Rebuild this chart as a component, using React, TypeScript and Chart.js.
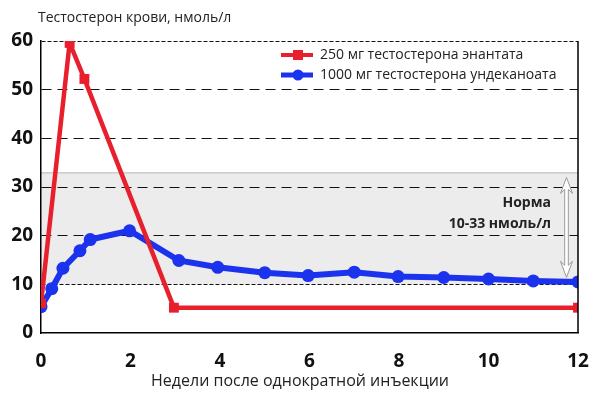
import React, { useEffect, useRef } from "react";
import { Chart, registerables } from "chart.js";

Chart.register(...registerables);

const redLabel = "250 мг тестостерона энантата";
const blueLabel = "1000 мг тестостерона ундеканоата";
const redWeeks = [0, 0.64, 0.97, 2.97, 12];
const redValues = [6.1, 59.6, 52.2, 5.2, 5.2];
const blueWeeks = [0, 0.24, 0.49, 0.87, 1.1, 1.98, 3.08, 3.95, 5, 5.97, 7, 7.98, 9, 10, 11, 12];
const blueValues = [5.4, 9.1, 13.3, 16.9, 19.2, 21, 14.9, 13.5, 12.4, 11.8, 12.5, 11.6, 11.4, 11.1, 10.7, 10.5];
const yTicks = [0, 10, 20, 30, 40, 50, 60];
const xTicks = [0, 2, 4, 6, 8, 10, 12];
const normLow = 10;
const normHigh = 33;
const yTitle = "Тестостерон крови, нмоль/л";
const xTitle = "Недели после однократной инъекции";
const normLines = ["Норма", "10-33 нмоль/л"];

const RED = "#e8202e";
const BLUE = "#1c33ee";
const FONT = "'Open Sans', 'Noto Sans', sans-serif";

const decor = {
  id: "decor",
  beforeDraw(chart: any) {
    const { ctx, chartArea: a, scales } = chart;
    const y = scales.y;
    const top = y.getPixelForValue(normHigh);
    const bot = y.getPixelForValue(normLow);
    ctx.save();
    ctx.fillStyle = "#ececec";
    ctx.fillRect(a.left, top, a.right - a.left, bot - top);
    ctx.strokeStyle = "#b8b8b8";
    ctx.lineWidth = 1;
    ctx.beginPath();
    ctx.moveTo(a.left, top + 0.5);
    ctx.lineTo(a.right, top + 0.5);
    ctx.stroke();
    ctx.restore();
  },
  afterDatasetsDraw(chart: any) {
    const { ctx, chartArea: a, scales } = chart;
    const y = scales.y;
    ctx.save();
    // right border
    ctx.strokeStyle = "#000";
    ctx.lineWidth = 1.5;
    ctx.beginPath();
    ctx.moveTo(a.right, a.top);
    ctx.lineTo(a.right, a.bottom);
    ctx.stroke();

    // titles
    ctx.fillStyle = "#222";
    ctx.font = `14px ${FONT}`;
    ctx.textBaseline = "middle";
    ctx.textAlign = "left";
    ctx.fillText(yTitle, 38, 18);
    ctx.font = `16px ${FONT}`;
    ctx.textAlign = "center";
    ctx.fillText(xTitle, 300, 381);

    // legend
    const legend = [
      { label: redLabel, color: RED, shape: "rect", yy: 55 },
      { label: blueLabel, color: BLUE, shape: "circle", yy: 75 },
    ];
    legend.forEach((l) => {
      ctx.strokeStyle = l.color;
      ctx.fillStyle = l.color;
      ctx.lineWidth = l.shape === "rect" ? 4 : 5;
      ctx.beginPath();
      ctx.moveTo(281, l.yy);
      ctx.lineTo(313, l.yy);
      ctx.stroke();
      if (l.shape === "rect") {
        ctx.fillRect(293, l.yy - 5, 10, 10);
      } else {
        ctx.beginPath();
        ctx.arc(298, l.yy, 5.5, 0, Math.PI * 2);
        ctx.fill();
      }
      ctx.fillStyle = "#222";
      ctx.font = `14px ${FONT}`;
      ctx.textAlign = "left";
      ctx.textBaseline = "middle";
      ctx.fillText(l.label, 320, l.yy);
    });

    // norm text
    ctx.fillStyle = "#222";
    ctx.font = `bold 14px ${FONT}`;
    ctx.textAlign = "right";
    ctx.fillText(normLines[0], 551, 203);
    ctx.fillText(normLines[1], 551, 224);

    // double arrow
    const ax = 566.5;
    const t = y.getPixelForValue(normHigh) + 5;
    const b = y.getPixelForValue(normLow) - 7;
    const hw = 6;
    const hl = 16;
    const sw = 1.8;
    ctx.beginPath();
    ctx.moveTo(ax, t);
    ctx.lineTo(ax + hw, t + hl);
    ctx.lineTo(ax + sw, t + hl - 4);
    ctx.lineTo(ax + sw, b - hl + 4);
    ctx.lineTo(ax + hw, b - hl);
    ctx.lineTo(ax, b);
    ctx.lineTo(ax - hw, b - hl);
    ctx.lineTo(ax - sw, b - hl + 4);
    ctx.lineTo(ax - sw, t + hl - 4);
    ctx.lineTo(ax - hw, t + hl);
    ctx.closePath();
    ctx.fillStyle = "#fff";
    ctx.fill();
    ctx.strokeStyle = "#9a9a9a";
    ctx.lineWidth = 1;
    ctx.stroke();
    ctx.restore();
  },
};

export default function App() {
  const ref = useRef<HTMLCanvasElement>(null);
  useEffect(() => {
    if (!ref.current) return;
    const chart = new Chart(ref.current, {
      type: "line",
      data: {
        datasets: [
          {
            label: redLabel,
            data: redWeeks.map((w, i) => ({ x: w, y: redValues[i] })),
            borderColor: RED,
            backgroundColor: RED,
            borderWidth: 4.5,
            pointStyle: "rect",
            pointRadius: 7,
            pointHoverRadius: 7,
            pointBorderWidth: 0,
            tension: 0,
          },
          {
            label: blueLabel,
            data: blueWeeks.map((w, i) => ({ x: w, y: blueValues[i] })),
            borderColor: BLUE,
            backgroundColor: BLUE,
            borderWidth: 6,
            pointStyle: "circle",
            pointRadius: 6.5,
            pointHoverRadius: 6.5,
            pointBorderWidth: 0,
            tension: 0,
          },
        ],
      },
      options: {
        animation: false,
        responsive: false,
        maintainAspectRatio: false,
        layout: { padding: { left: 0, right: 24, top: 41, bottom: 0 } },
        plugins: { legend: { display: false }, tooltip: { enabled: false } },
        scales: {
          x: {
            type: "linear",
            min: 0,
            max: 12,
            afterBuildTicks: (s: any) => {
              s.ticks = xTicks.map((v) => ({ value: v }));
            },
            afterFit: (s: any) => {
              s.height = 61;
            },
            grid: { display: false },
            border: { display: true, color: "#000", width: 1.5 },
            ticks: {
              color: "#111",
              font: { family: FONT, size: 19, weight: "bold" },
              padding: 9,
              maxRotation: 0,
              autoSkip: false,
            },
          },
          y: {
            type: "linear",
            min: 0,
            max: 60,
            afterBuildTicks: (s: any) => {
              s.ticks = yTicks.map((v) => ({ value: v }));
            },
            afterFit: (s: any) => {
              s.width = 41;
            },
            grid: {
              color: (c: any) => (c.tick && c.tick.value === 0 ? "rgba(0,0,0,0)" : "#111"),
              lineWidth: 1,
              drawTicks: false,
            },
            border: {
              display: true,
              color: "#000",
              width: 1.5,
              dash: (c: any) => (c.tick && (c.tick.value === 60 || c.tick.value === 10) ? [4, 2] : [10, 6]),
            },
            ticks: {
              color: "#111",
              font: { family: FONT, size: 19, weight: "bold" },
              padding: 8,
            },
          },
        },
      },
      plugins: [decor],
    } as any);
    return () => chart.destroy();
  }, []);
  return (
    <div style={{ position: "fixed", left: 0, top: 0, width: 602, height: 394, background: "#fff" }}>
      <canvas ref={ref} width={602} height={394} style={{ width: 602, height: 394, display: "block" }} />
    </div>
  );
}
